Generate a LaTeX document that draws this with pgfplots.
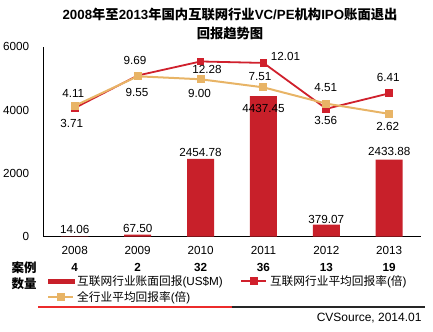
\documentclass[border=0pt]{standalone}
\usepackage{fontspec}
\setmainfont{Liberation Sans}
\newfontfamily\cjk{Noto Sans CJK SC}
\usepackage{pgfplots}
\pgfplotsset{compat=1.18}
\usepackage{pgfplotstable}
\definecolor{barred}{HTML}{C8202A}
\definecolor{linered}{HTML}{D0202C}
\definecolor{lineorg}{HTML}{E8B466}
\definecolor{rulered}{HTML}{EC2B2B}
\newcommand\lab{\fontsize{11.7bp}{14bp}\selectfont}

\pgfplotstableread{
x y label dx dy
0 14.06 14.06 0 7
1 67.50 67.50 0 6.5
2 2454.78 2454.78 0 6.5
3 4437.45 4437.45 0 -12.5
4 379.07 379.07 0 5.5
5 2433.88 2433.88 0 8.5
}\bars

\pgfplotstableread{
x y label dx dy
0 3.71 3.71 -3 -15.3
1 9.69 9.69 -2.6 14.8
2 12.28 12.28 6.5 -8.5
3 12.01 12.01 22 6.7
4 3.56 3.56 -0.7 -12
5 6.41 6.41 -1 15.9
}\redline

\pgfplotstableread{
x y label dx dy
0 4.11 4.11 -1.5 12
1 9.55 9.55 -0.7 -15.7
2 9.00 9.00 -1 -14
3 7.51 7.51 -3.5 10.7
4 4.51 4.51 -0.7 15.7
5 2.62 2.62 -1.5 -13
}\orgline

\pgfplotsset{
  shiftedlabels/.style={
    nodes near coords, point meta=explicit symbolic,
    visualization depends on={\thisrow{dx} \as \myDX},
    visualization depends on={\thisrow{dy} \as \myDY},
    every node near coord/.append style={anchor=center, xshift=\myDX bp, yshift=\myDY bp, font=\lab, text=black, inner sep=0pt}
  }
}

\begin{document}
\begin{tikzpicture}
\path[use as bounding box] (0bp,0bp) rectangle (433bp,332bp);
% title
\node[anchor=base, inner sep=0pt, font=\fontsize{13.3bp}{15bp}\selectfont\bfseries] at (230bp,312.1bp)
  {2008{\cjk 年至}2013{\cjk 年国内互联网行业}VC/PE{\cjk 机构}IPO{\cjk 账面退出}};
\node[anchor=base, inner sep=0pt, font=\fontsize{13.3bp}{15bp}\selectfont\bfseries\cjk] at (230bp,293.8bp)
  {回报趋势图};

\begin{axis}[
  at={(43.3bp,95.3bp)}, anchor=south west,
  scale only axis, width=377.4bp, height=190bp,
  xmin=-0.5, xmax=5.5, ymin=0, ymax=6000,
  axis x line*=bottom, axis y line*=left,
  axis line style={black, line width=0.9bp, -},
  major tick length=0pt,
  ytick={0,2000,4000,6000},
  yticklabels={0,2000,4000,6000},
  yticklabel style={font=\lab, anchor=east, inner sep=0pt, xshift=-14bp},
  xtick={0,1,2,3,4,5},
  xticklabels={{2008\\\textbf{4}},{2009\\\textbf{2}},{2010\\\textbf{32}},{2011\\\textbf{36}},{2012\\\textbf{13}},{2013\\\textbf{19}}},
  xticklabel style={align=center, font=\fontsize{11.7bp}{16.4bp}\selectfont, inner sep=0pt, anchor=north, yshift=-9.8bp},
  clip=false,
]
\addplot[ybar, bar width=27bp, bar shift=0pt, fill=barred, draw=none, shiftedlabels]
  table[x=x, y=y, meta=label]{\bars};
\end{axis}

\begin{axis}[
  at={(43.3bp,95.3bp)}, anchor=south west,
  scale only axis, width=377.4bp, height=190bp,
  xmin=-0.5, xmax=5.5, ymin=-20, ymax=15,
  hide axis, clip=false,
  legend columns=2,
  legend cell align=left,
  legend style={at={(0.0106,-0.2089)}, anchor=north west, draw=none, fill=none,
    inner sep=0pt, outer sep=0pt, font=\lab,
    nodes={inner sep=0pt, text height=9bp, text depth=3bp},
    row sep=4bp,
    /tikz/every odd column/.append style={column sep=2.7bp},
    /tikz/every even column/.append style={column sep=17.7bp}},
]
\addlegendimage{legend image code/.code={\fill[barred] (0bp,-1.0bp) rectangle (26bp,3.6bp);}}
\addlegendentry{{\cjk 互联网行业账面回报}(US\$M)}
\addplot[color=linered, line width=1.8bp, mark=square*, mark size=3bp,
  mark options={solid, fill=linered, draw=linered},
  legend image code/.code={\draw[mark repeat=2, mark phase=2] plot coordinates {(0bp,1.3bp) (12.5bp,1.3bp) (25bp,1.3bp)};}]
  table[x=x, y=y]{\redline};
\addlegendentry{{\cjk 互联网行业平均回报率}({\cjk 倍})}
\addplot[color=lineorg, line width=2bp, mark=square*, mark size=3bp,
  mark options={solid, fill=lineorg, draw=lineorg},
  legend image code/.code={\draw[mark repeat=2, mark phase=2] plot coordinates {(0bp,1.3bp) (12.5bp,1.3bp) (25bp,1.3bp)};}]
  table[x=x, y=y]{\orgline};
\addlegendentry{{\cjk 全行业平均回报率}({\cjk 倍})}
% labels
\addplot[draw=none, mark=none, forget plot, shiftedlabels]
  table[x=x, y=y, meta=label]{\redline};
\addplot[draw=none, mark=none, forget plot, shiftedlabels]
  table[x=x, y=y, meta=label]{\orgline};
\end{axis}

% case count row label
\node[anchor=base, inner sep=0pt, font=\fontsize{12.5bp}{15bp}\selectfont\bfseries\cjk] at (24.2bp,59.2bp) {案例};
\node[anchor=base, inner sep=0pt, font=\fontsize{12.5bp}{15bp}\selectfont\bfseries\cjk] at (24.2bp,43.2bp) {数量};
% bottom rule
\draw[rulered, line width=1.8bp] (38.3bp,25bp) -- (231.7bp,25bp);
\draw[black!85, line width=1.8bp] (231.7bp,25bp) -- (425bp,25bp);
\node[anchor=base east, inner sep=0pt, font=\fontsize{12bp}{14bp}\selectfont] at (421.7bp,10.5bp) {CVSource, 2014.01};
\end{tikzpicture}
\end{document}
